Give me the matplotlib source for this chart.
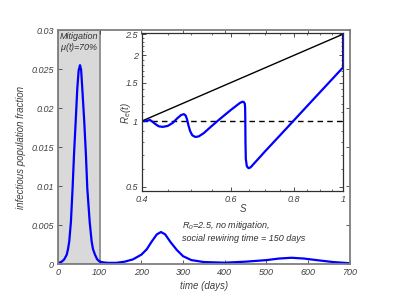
import numpy as np
import matplotlib
matplotlib.use("Agg")
import matplotlib.pyplot as plt
from matplotlib.ticker import FixedLocator, NullFormatter

plt.rcParams['font.family'] = ['Liberation Sans', 'DejaVu Sans']
plt.rcParams['mathtext.fontset'] = 'custom'
plt.rcParams['mathtext.it'] = 'Liberation Sans:italic'
plt.rcParams['mathtext.rm'] = 'Liberation Sans:italic'

# main curve: infectious fraction vs time (days)
t_days = [0, 9, 15, 21, 24, 27, 31, 35, 38.4, 42.4, 46.3, 49.5, 52.8, 55.5, 58.3, 63, 67,
          70.3, 76, 80.7, 84, 88.7, 94, 100, 110, 120, 140, 160, 180, 200, 213, 225, 237,
          247, 257, 270, 285, 300, 320, 350, 400, 450, 500, 530, 560, 590, 620, 660, 700]
infected = [0.0001, 0.0003, 0.0006, 0.0012, 0.0019, 0.0029, 0.0054, 0.0097, 0.0140, 0.01825,
            0.0225, 0.0248, 0.0255, 0.0249, 0.0225, 0.01825, 0.0140, 0.0097, 0.0054, 0.0029,
            0.0019, 0.0012, 0.0006, 0.0003, 0.0002, 0.00015, 0.00015, 0.0003, 0.0006, 0.0012,
            0.0019, 0.0029, 0.0038, 0.0041, 0.0038, 0.0028, 0.0018, 0.0010, 0.0005, 0.00025,
            0.00017, 0.0003, 0.0005, 0.0007, 0.0008, 0.0007, 0.0005, 0.00025, 0.0001]

# inset: effective reproduction number vs susceptible fraction
s_frac = [1.0, 1.0, 0.95, 0.9, 0.85, 0.8, 0.75, 0.7, 0.68, 0.665, 0.656, 0.65, 0.645,
          0.642, 0.641, 0.6405, 0.640, 0.639, 0.636, 0.632, 0.625, 0.6, 0.57, 0.55, 0.53,
          0.518, 0.51, 0.503, 0.498, 0.494, 0.491, 0.488, 0.484, 0.478, 0.47, 0.46, 0.45,
          0.44, 0.432, 0.426, 0.42, 0.415, 0.41, 0.405]
r_eff = [2.5, 1.76, 1.549, 1.354, 1.174, 1.009, 0.859, 0.724, 0.672, 0.635, 0.613, 0.608,
         0.62, 0.67, 0.8, 1.0, 1.15, 1.2, 1.222, 1.225, 1.21, 1.125, 1.02, 0.95, 0.88,
         0.85, 0.845, 0.86, 0.9, 0.96, 1.02, 1.06, 1.075, 1.065, 1.03, 0.98, 0.95,
         0.94, 0.945, 0.965, 0.99, 1.01, 1.005, 1.0]
s_line = [0.4, 1.0]
r_line = [1.0, 2.5]

x_ticks = [0, 100, 200, 300, 400, 500, 600, 700]
y_ticks = [0, 0.005, 0.01, 0.015, 0.02, 0.025, 0.03]
y_tick_labels = ['0', '0.005', '0.01', '0.015', '0.02', '0.025', '0.03']
in_x_ticks = [0.4, 0.6, 0.8, 1.0]
in_x_labels = ['0.4', '0.6', '0.8', '1']
in_y_ticks = [0.5, 1, 1.5, 2, 2.5]
in_y_labels = ['0.5', '1', '1.5', '2', '2.5']

fig = plt.figure(figsize=(3.95, 3.05), dpi=100)
ax = fig.add_axes([0.1468, 0.1344, 0.739, 0.767])

ax.axvspan(0, 100, facecolor='#d9d9d9', edgecolor='#8c8c8c', linewidth=1.3, zorder=0)
ax.plot(t_days, infected, color='#0000ff', linewidth=1.6)
ax.set_xlim(0, 700)
ax.set_ylim(0, 0.03)
ax.set_xticks(x_ticks)
ax.set_yticks(y_ticks)
ax.set_yticklabels(y_tick_labels)
ax.tick_params(direction='in', top=True, right=True, length=3, width=0.6,
               labelsize=6.5, labelcolor='#404040', color='#404040', pad=3)
for lbl in ax.get_xticklabels() + ax.get_yticklabels():
    lbl.set_fontstyle('italic')
for sp in ax.spines.values():
    sp.set_color('#7f7f7f')
    sp.set_linewidth(1.3)
ax.set_xlabel('time (days)', fontsize=7, fontstyle='italic', color='#404040', labelpad=3)
ax.set_ylabel('infectious population fraction', fontsize=7, fontstyle='italic',
              color='#404040', labelpad=4)

ax.text(50, 0.0292, 'Mitigation', ha='center', va='center', fontsize=6.5,
        fontstyle='italic', color='#303030')
ax.text(50, 0.0278, '$\\mu(t)$=70%', ha='center', va='center', fontsize=6.5,
        fontstyle='italic', color='#303030')
ax.text(297, 0.0050, '$R_0$=2.5, no mitigation,', ha='left', va='center', fontsize=6.5,
        fontstyle='italic', color='#303030')
ax.text(297, 0.0033, 'social rewiring time = 150 days', ha='left', va='center', fontsize=6.5,
        fontstyle='italic', color='#303030')

# inset
axi = fig.add_axes([0.3595, 0.3738, 0.509, 0.518])
axi.plot(s_line, r_line, color='black', linewidth=1.0)
axi.plot([0.4, 1.0], [1.0, 1.0], color='black', linewidth=1.0, linestyle=(0, (4, 3)))
axi.plot(s_frac, r_eff, color='#0000ff', linewidth=1.6)
axi.set_xscale('log')
axi.set_yscale('log')
axi.set_xlim(0.4, 1.0)
axi.set_ylim(0.478, 2.53)
axi.xaxis.set_major_locator(FixedLocator(in_x_ticks))
axi.set_xticklabels(in_x_labels)
axi.xaxis.set_minor_locator(FixedLocator([0.45, 0.5, 0.55, 0.65, 0.7, 0.75, 0.85, 0.9, 0.95]))
axi.xaxis.set_minor_formatter(NullFormatter())
axi.yaxis.set_major_locator(FixedLocator(in_y_ticks))
axi.set_yticklabels(in_y_labels)
axi.yaxis.set_minor_locator(FixedLocator([0.6, 0.7, 0.8, 0.9, 1.1, 1.2, 1.3, 1.4,
                                          1.6, 1.7, 1.8, 1.9, 2.1, 2.2, 2.3, 2.4]))
axi.yaxis.set_minor_formatter(NullFormatter())
axi.tick_params(which='both', direction='in', top=True, right=True, labelsize=6.5,
                labelcolor='#404040', color='#303030', pad=3)
axi.tick_params(which='major', length=3, width=0.6)
axi.tick_params(which='minor', length=1.5, width=0.5)
for lbl in axi.get_xticklabels() + axi.get_yticklabels():
    lbl.set_fontstyle('italic')
for sp in axi.spines.values():
    sp.set_color('#303030')
    sp.set_linewidth(0.9)
axi.set_xlabel('S', fontsize=7, fontstyle='italic', color='#404040', labelpad=0)
axi.set_ylabel('$R_e(t)$', fontsize=7, color='#404040')
axi.yaxis.set_label_coords(-0.045, 0.49)

fig.savefig('out.png', dpi=100)
